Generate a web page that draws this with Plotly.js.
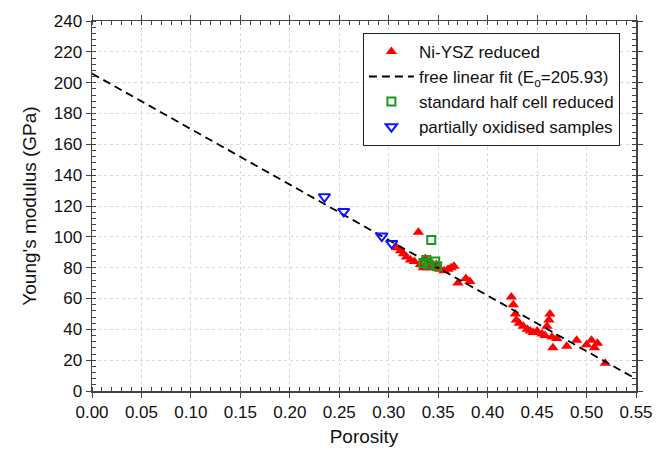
<!DOCTYPE html>
<html>
<head>
<meta charset="utf-8">
<script src="https://cdn.plot.ly/plotly-3.0.1.min.js"></script>
<style>html,body{margin:0;padding:0;background:#fff;}#chart{width:668px;height:450px;}</style>
</head>
<body>
<div id="chart"></div>
<script>
// Ni-YSZ reduced (filled red triangles)
var niPorosity = [0.308, 0.312, 0.315, 0.318, 0.322, 0.326, 0.330, 0.332, 0.335, 0.337, 0.340, 0.342, 0.345, 0.348, 0.352, 0.356, 0.360, 0.363, 0.366, 0.370, 0.378, 0.382,
                  0.424, 0.426, 0.428, 0.429, 0.432, 0.436, 0.440, 0.443, 0.446, 0.450, 0.455, 0.458, 0.460, 0.462, 0.463, 0.465, 0.466, 0.470, 0.480, 0.490, 0.500, 0.505, 0.508, 0.511, 0.519];
var niModulus  = [93, 91, 89, 87, 85, 84, 103, 82, 80, 86, 80, 84, 80, 82, 79, 78, 79, 80, 81, 70, 73, 71,
                  61, 56, 50, 46, 44, 42, 40, 39, 38, 39, 37, 36, 42, 46, 50, 35, 28, 34, 29, 33, 30, 33, 28, 31, 18];

// standard half cell reduced (open green squares)
var halfPorosity = [0.335, 0.338, 0.340, 0.343, 0.347, 0.349];
var halfModulus  = [83, 85, 82, 98, 84, 81];

// partially oxidised samples (open blue down-triangles)
var oxPorosity = [0.235, 0.2545, 0.293, 0.303];
var oxModulus  = [126, 116.5, 100.5, 95.7];

// free linear fit
var fitE0 = 205.93;
var fitSlope = 360.2;
var fitPorosity = [0, 0.55];
var fitModulus = fitPorosity.map(function(p){ return fitE0 - fitSlope * p; });

var FONT = 'Liberation Sans, Arial, sans-serif';

var traces = [
  {x: niPorosity, y: niModulus, type: 'scatter', mode: 'markers', name: 'Ni-YSZ reduced',
   marker: {symbol: 'triangle-up', size: 10, color: '#ff0000', line: {width: 0}}},
  {x: fitPorosity, y: fitModulus, type: 'scatter', mode: 'lines', name: 'free linear fit (E<sub>o</sub>=205.93)',
   line: {color: '#000000', width: 1.8, dash: '8px,5px'}},
  {x: halfPorosity, y: halfModulus, type: 'scatter', mode: 'markers', name: 'standard half cell reduced',
   marker: {symbol: 'square-open', size: 8, color: '#1a9a1a', line: {width: 2, color: '#1a9a1a'}}},
  {x: oxPorosity, y: oxModulus, type: 'scatter', mode: 'markers', name: 'partially oxidised samples',
   marker: {symbol: 'triangle-down-open', size: 10, color: '#1010ff', line: {width: 2, color: '#1010ff'}}}
];

var axisCommon = {
  showline: true, linecolor: '#444', linewidth: 1.5, mirror: 'allticks',
  ticks: 'outside', ticklen: 5, tickwidth: 1, tickcolor: '#444',
  showgrid: true, gridcolor: '#d3d8e6', gridwidth: 1, griddash: 'dot',
  zeroline: false,
  tickfont: {family: FONT, size: 17, color: '#111'}
};

var layout = {
  width: 668, height: 450,
  margin: {l: 92, r: 32, t: 21, b: 59},
  paper_bgcolor: '#fff', plot_bgcolor: '#fff',
  showlegend: true,
  xaxis: Object.assign({}, axisCommon, {
    range: [0, 0.55], dtick: 0.05, tick0: 0, tickformat: '.2f',
    minor: {dtick: 0.01, ticks: 'inside', ticklen: 4, tickcolor: '#444', showgrid: false},
    title: {text: 'Porosity', font: {family: FONT, size: 19, color: '#111'}, standoff: 9}
  }),
  yaxis: Object.assign({}, axisCommon, {
    range: [0, 240], dtick: 20, tick0: 0,
    minor: {dtick: 4, ticks: 'inside', ticklen: 4, tickcolor: '#444', showgrid: false},
    title: {text: "Young's modulus (GPa)", font: {family: FONT, size: 19, color: '#111'}, standoff: 12}
  }),
  legend: {
    x: 0.498, y: 0.968, xanchor: 'left', yanchor: 'top',
    bgcolor: '#fff', bordercolor: '#222', borderwidth: 1,
    font: {family: FONT, size: 17, color: '#111'},
    tracegroupgap: 0, itemwidth: 45
  }
};

Plotly.newPlot('chart', traces, layout, {displayModeBar: false, staticPlot: true});
</script>
</body>
</html>
